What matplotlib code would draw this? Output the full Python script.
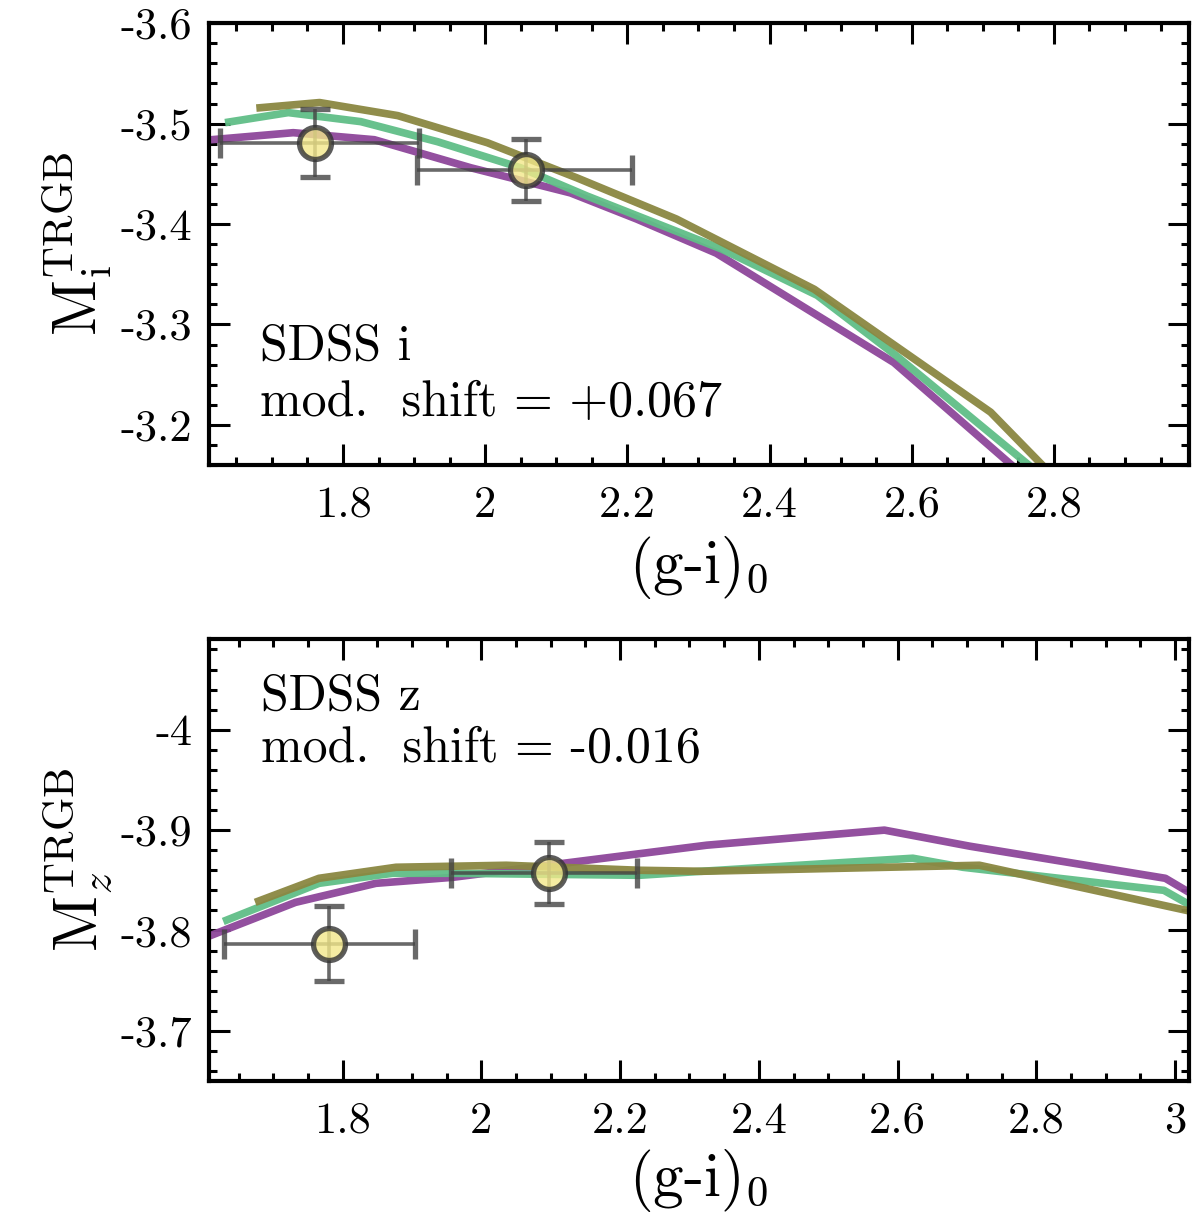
import matplotlib
matplotlib.use("Agg")
import matplotlib.pyplot as plt
from matplotlib.ticker import MultipleLocator, FuncFormatter

plt.rcParams['font.family'] = ['cmr10', 'DejaVu Serif']
plt.rcParams['mathtext.fontset'] = 'cm'
plt.rcParams['axes.unicode_minus'] = False

# --- SDSS i panel: model curves ---
i_purple_x = [1.600, 1.615, 1.730, 1.844, 1.980, 2.120, 2.213, 2.325, 2.575, 2.755]
i_purple_y = [-3.483, -3.484, -3.491, -3.484, -3.456, -3.431, -3.405, -3.371, -3.262, -3.151]
i_green_x = [1.634, 1.723, 1.825, 1.933, 2.050, 2.143, 2.333, 2.467, 2.578, 2.780]
i_green_y = [-3.501, -3.511, -3.502, -3.482, -3.456, -3.428, -3.375, -3.329, -3.269, -3.151]
i_olive_x = [1.678, 1.767, 1.877, 2.003, 2.129, 2.269, 2.463, 2.711, 2.796]
i_olive_y = [-3.5155, -3.521, -3.508, -3.481, -3.446, -3.405, -3.335, -3.2126, -3.151]

# SDSS i data points
i_pts_x = [1.7605, 2.058]
i_pts_y = [-3.481, -3.454]
i_xerr_lo = [0.133, 0.154]
i_xerr_hi = [0.147, 0.149]
i_yerr = [0.034, 0.031]

# --- SDSS z panel: model curves ---
z_purple_x = [1.595, 1.732, 1.848, 1.959, 2.325, 2.581, 2.704, 2.986, 3.030]
z_purple_y = [-3.791, -3.828, -3.847, -3.853, -3.885, -3.900, -3.884, -3.852, -3.834]
z_green_x = [1.628, 1.766, 1.872, 1.959, 2.228, 2.318, 2.622, 2.694, 2.984, 3.030]
z_green_y = [-3.809, -3.847, -3.857, -3.857, -3.855, -3.859, -3.872, -3.863, -3.840, -3.822]
z_olive_x = [1.674, 1.766, 1.877, 2.036, 2.228, 2.318, 2.718, 3.030]
z_olive_y = [-3.828, -3.852, -3.863, -3.865, -3.860, -3.859, -3.865, -3.818]

# SDSS z data points
z_pts_x = [1.780, 2.097]
z_pts_y = [-3.787, -3.857]
z_xerr_lo = [0.151, 0.141]
z_xerr_hi = [0.124, 0.128]
z_yerr = [0.0375, 0.031]

purple = '#8d469a'
green = '#60be87'
olive = '#8a8741'

fig = plt.figure(figsize=(12, 12.17), dpi=100)
ax1 = fig.add_axes([0.1739, 0.6179, 0.8169, 0.3630])
ax2 = fig.add_axes([0.1739, 0.1117, 0.8169, 0.3629])

fmt = FuncFormatter(lambda v, p: f"{v:g}")


def style(ax):
    ax.tick_params(which='both', direction='in', top=True, right=True,
                   width=2.2, labelsize=32)
    ax.tick_params(which='major', length=15)
    ax.tick_params(which='minor', length=6)
    ax.tick_params(axis='x', pad=15)
    ax.tick_params(axis='y', pad=12)
    ax.xaxis.set_major_locator(MultipleLocator(0.2))
    ax.xaxis.set_minor_locator(MultipleLocator(0.05))
    ax.yaxis.set_major_locator(MultipleLocator(0.1))
    ax.yaxis.set_minor_locator(MultipleLocator(0.02))
    ax.xaxis.set_major_formatter(fmt)
    ax.yaxis.set_major_formatter(fmt)
    for s in ax.spines.values():
        s.set_linewidth(3)


def draw(ax, curves, px, py, xlo, xhi, yerr):
    for x, y, c in curves:
        ax.plot(x, y, color=c, lw=5.5, alpha=0.95, solid_capstyle='butt', zorder=2)
    ax.errorbar(px, py, xerr=[xlo, xhi], yerr=yerr, fmt='o', ms=23,
                mfc='#f3e88a', mec='#333333', mew=3.8, ecolor='#444444',
                elinewidth=2.6, capsize=10.5, capthick=3.2, alpha=0.8, zorder=3)


draw(ax1, [(i_purple_x, i_purple_y, purple), (i_green_x, i_green_y, green),
           (i_olive_x, i_olive_y, olive)],
     i_pts_x, i_pts_y, i_xerr_lo, i_xerr_hi, i_yerr)
ax1.set_xlim(1.611, 2.99)
ax1.set_ylim(-3.6, -3.16)
ax1.invert_yaxis()
style(ax1)
ax1.set_xlabel('(g-i)$_0$', fontsize=44, labelpad=6)
ax1.set_ylabel(r'$\mathrm{M}_\mathrm{i}^\mathrm{TRGB}$', fontsize=44, labelpad=4)
ax1.text(0.052, 0.238, 'SDSS i', transform=ax1.transAxes, fontsize=36, va='baseline')
ax1.text(0.052, 0.111, 'mod.  shift = +0.067', transform=ax1.transAxes, fontsize=36,
         va='baseline')

draw(ax2, [(z_purple_x, z_purple_y, purple), (z_green_x, z_green_y, green),
           (z_olive_x, z_olive_y, olive)],
     z_pts_x, z_pts_y, z_xerr_lo, z_xerr_hi, z_yerr)
ax2.set_xlim(1.607, 3.02)
ax2.set_ylim(-4.09, -3.65)
ax2.invert_yaxis()
style(ax2)
ax2.set_xlabel('(g-i)$_0$', fontsize=44, labelpad=4)
ax2.set_ylabel(r'$\mathrm{M}_z^\mathrm{TRGB}$', fontsize=44, labelpad=4)
ax2.text(0.053, 0.8415, 'SDSS z', transform=ax2.transAxes, fontsize=36, va='baseline')
ax2.text(0.053, 0.7238, 'mod.  shift = -0.016', transform=ax2.transAxes, fontsize=36,
         va='baseline')

fig.savefig('out.png', dpi=100)
plt.close(fig)
